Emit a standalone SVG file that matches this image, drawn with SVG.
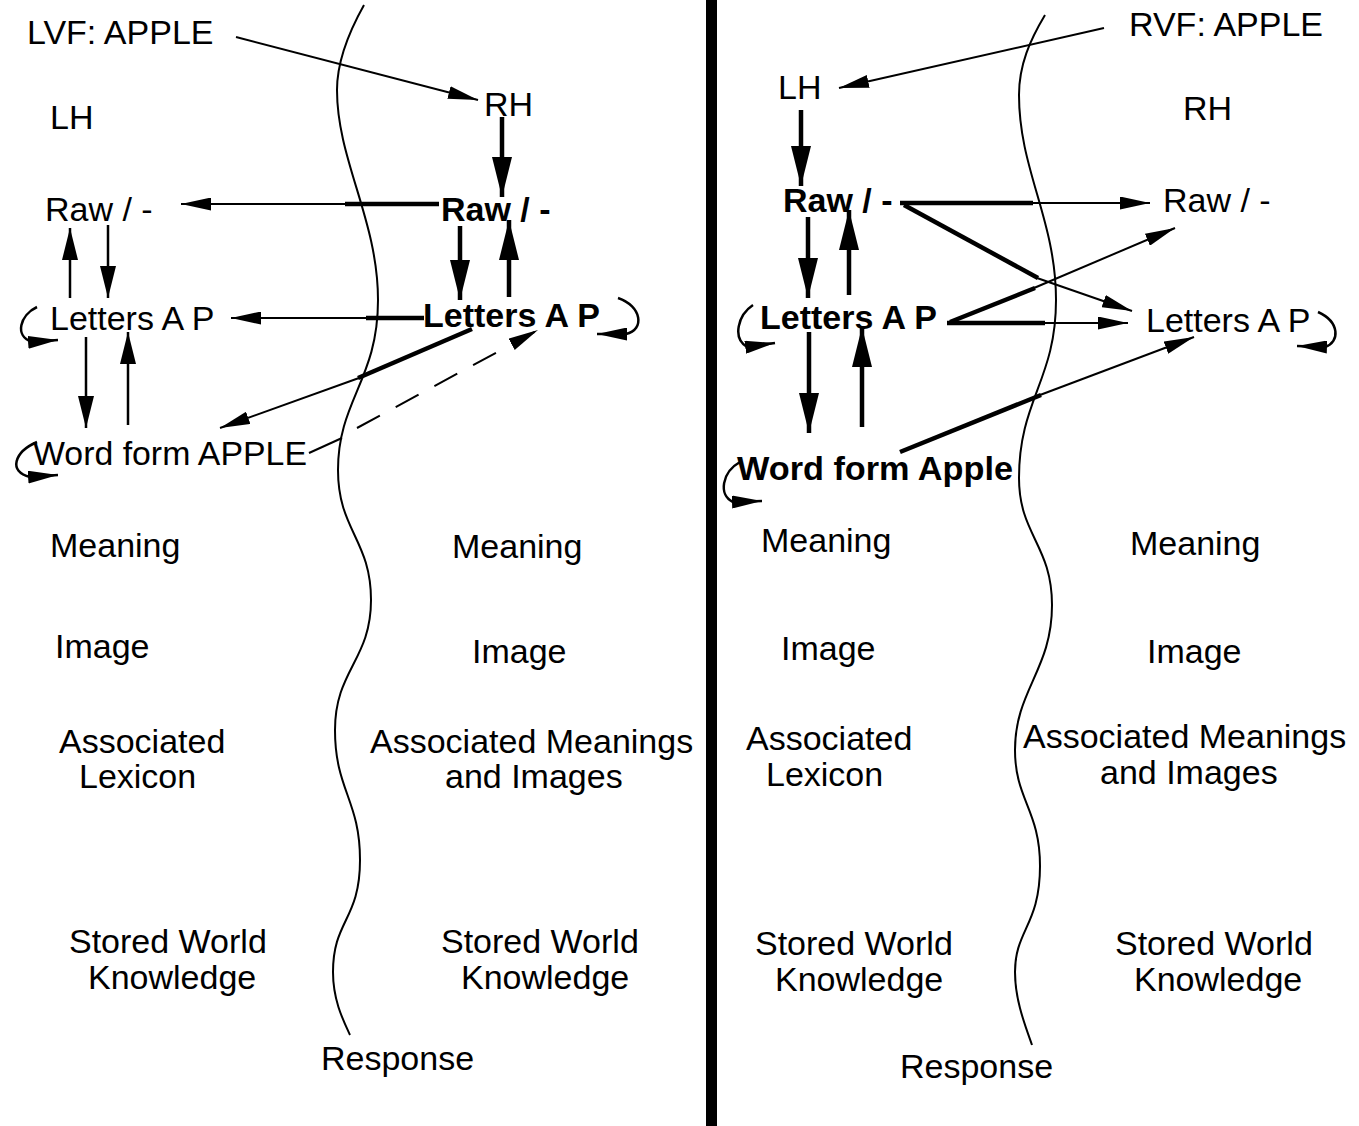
<svg xmlns="http://www.w3.org/2000/svg" width="1359" height="1126" viewBox="0 0 1359 1126">
<style>
.t{font-family:"Liberation Sans",Arial,Helvetica,sans-serif;font-size:34px;fill:#000}
.b{font-weight:bold}
.thin{stroke:#000;stroke-width:2;fill:none}
.med{stroke:#000;stroke-width:2.5;fill:none}
.thick{stroke:#000;stroke-width:4.5;fill:none}
.wave{stroke:#000;stroke-width:2;fill:none}
.dash{stroke:#000;stroke-width:2;fill:none;stroke-dasharray:26 18}
</style>
<defs>
<marker id="a" markerUnits="userSpaceOnUse" viewBox="0 0 30 13" markerWidth="30" markerHeight="13" refX="30" refY="6.5" orient="auto"><path d="M0,0 L30,6.5 L0,13 z" fill="#000"/></marker>
<marker id="m" markerUnits="userSpaceOnUse" viewBox="0 0 32 16" markerWidth="32" markerHeight="16" refX="32" refY="8" orient="auto"><path d="M0,0 L32,8 L0,16 z" fill="#000"/></marker>
<marker id="A" markerUnits="userSpaceOnUse" viewBox="0 0 40 20" markerWidth="40" markerHeight="20" refX="40" refY="10" orient="auto"><path d="M0,0 L40,10 L0,20 z" fill="#000"/></marker>
</defs>
<rect width="1359" height="1126" fill="#fff"/>

<!-- divider and midlines -->
<g id="divider"><rect x="706" y="0" width="11" height="1126" fill="#000"/></g>
<g id="midlines">
<path class="wave" d="M364,5 C350,30 337,60 337,90 C337,160 378,220 378,300 C378,380 338,400 338,470 C338,530 371,540 371,600 C371,660 335,670 335,730 C335,790 360,800 360,860 C360,920 333,920 333,972 C333,1000 343,1020 350,1035"/>
<path class="wave" d="M1045,15 C1030,40 1019,65 1019,95 C1019,170 1056,220 1056,300 C1056,380 1019,400 1019,478 C1019,535 1052,545 1052,605 C1052,670 1015,690 1015,750 C1015,800 1040,810 1040,866 C1040,925 1015,930 1015,972 C1015,1000 1025,1025 1032,1045"/>
</g>

<!-- Left panel nodes -->
<g id="L-lvf"><text class="t" x="27" y="44">LVF: APPLE</text></g>
<g id="L-lh"><text class="t" x="50" y="129">LH</text></g>
<g id="L-rh"><text class="t" x="484" y="116">RH</text></g>
<g id="L-raw-lh"><text class="t" x="45" y="221">Raw / -</text></g>
<g id="L-raw-rh"><text class="t b" x="441" y="221">Raw / -</text></g>
<g id="L-letters-lh"><text class="t" x="50" y="330">Letters A P</text></g>
<g id="L-letters-rh"><text class="t b" x="423" y="327">Letters A P</text></g>
<g id="L-word-lh"><text class="t" x="33" y="465" textLength="274" lengthAdjust="spacingAndGlyphs">Word form APPLE</text></g>
<g id="L-meaning-lh"><text class="t" x="50" y="557">Meaning</text></g>
<g id="L-meaning-rh"><text class="t" x="452" y="558">Meaning</text></g>
<g id="L-image-lh"><text class="t" x="55" y="658">Image</text></g>
<g id="L-image-rh"><text class="t" x="472" y="663">Image</text></g>
<g id="L-assoc-lh"><text class="t" x="59" y="753">Associated</text><text class="t" x="79" y="788">Lexicon</text></g>
<g id="L-assoc-rh"><text class="t" x="370" y="753">Associated Meanings</text><text class="t" x="445" y="788">and Images</text></g>
<g id="L-stored-lh"><text class="t" x="69" y="953">Stored World</text><text class="t" x="88" y="989">Knowledge</text></g>
<g id="L-stored-rh"><text class="t" x="441" y="953">Stored World</text><text class="t" x="461" y="989">Knowledge</text></g>
<g id="L-response"><text class="t" x="321" y="1070">Response</text></g>

<!-- Right panel nodes -->
<g id="R-rvf"><text class="t" x="1129" y="36">RVF: APPLE</text></g>
<g id="R-lh"><text class="t" x="778" y="99">LH</text></g>
<g id="R-rh"><text class="t" x="1183" y="120">RH</text></g>
<g id="R-raw-lh"><text class="t b" x="783" y="212">Raw / -</text></g>
<g id="R-raw-rh"><text class="t" x="1163" y="212">Raw / -</text></g>
<g id="R-letters-lh"><text class="t b" x="760" y="329">Letters A P</text></g>
<g id="R-letters-rh"><text class="t" x="1146" y="332">Letters A P</text></g>
<g id="R-word-lh"><text class="t b" x="737" y="480" textLength="276" lengthAdjust="spacingAndGlyphs">Word form Apple</text></g>
<g id="R-meaning-lh"><text class="t" x="761" y="552">Meaning</text></g>
<g id="R-meaning-rh"><text class="t" x="1130" y="555">Meaning</text></g>
<g id="R-image-lh"><text class="t" x="781" y="660">Image</text></g>
<g id="R-image-rh"><text class="t" x="1147" y="663">Image</text></g>
<g id="R-assoc-lh"><text class="t" x="746" y="750">Associated</text><text class="t" x="766" y="786">Lexicon</text></g>
<g id="R-assoc-rh"><text class="t" x="1023" y="748">Associated Meanings</text><text class="t" x="1100" y="784">and Images</text></g>
<g id="R-stored-lh"><text class="t" x="755" y="955">Stored World</text><text class="t" x="775" y="991">Knowledge</text></g>
<g id="R-stored-rh"><text class="t" x="1115" y="955">Stored World</text><text class="t" x="1134" y="991">Knowledge</text></g>
<g id="R-response"><text class="t" x="900" y="1078">Response</text></g>

<!-- Connectors -->
<g id="connectors">
<!-- left panel -->
<line class="thin" x1="236" y1="37" x2="478" y2="100" marker-end="url(#a)"/>
<line class="thick" x1="502" y1="117" x2="502" y2="197" marker-end="url(#A)"/>
<line class="thick" x1="439" y1="204" x2="345" y2="204"/>
<line class="thin" x1="346" y1="204" x2="181" y2="204" marker-end="url(#a)"/>
<line class="med" x1="70" y1="298" x2="70" y2="228" marker-end="url(#m)"/>
<line class="med" x1="108" y1="225" x2="108" y2="298" marker-end="url(#m)"/>
<line class="thick" x1="460" y1="226" x2="460" y2="300" marker-end="url(#A)"/>
<line class="thick" x1="509" y1="297" x2="509" y2="220" marker-end="url(#A)"/>
<line class="thick" x1="424" y1="318" x2="366" y2="318"/>
<line class="thin" x1="367" y1="318" x2="231" y2="318" marker-end="url(#a)"/>
<line class="med" x1="86" y1="337" x2="86" y2="428" marker-end="url(#m)"/>
<line class="med" x1="128" y1="425" x2="128" y2="332" marker-end="url(#m)"/>
<line class="thick" x1="472" y1="329" x2="358" y2="378"/>
<line class="thin" x1="359" y1="378" x2="220" y2="428" marker-end="url(#a)"/>
<line class="thin" x1="309" y1="453" x2="342" y2="438"/>
<line class="dash" x1="357" y1="428" x2="538" y2="330" marker-end="url(#a)"/>
<path class="med" d="M37,307 C20,315 14,336 32,342 L58,340" marker-end="url(#a)"/>
<path class="med" d="M37,442 C14,452 8,472 30,477 L58,475" marker-end="url(#a)"/>
<path class="med" d="M618,298 C642,306 645,330 626,334 L597,334" marker-end="url(#a)"/>
<!-- right panel -->
<line class="thin" x1="1104" y1="28" x2="839" y2="88" marker-end="url(#a)"/>
<line class="thick" x1="801" y1="110" x2="801" y2="186" marker-end="url(#A)"/>
<line class="thick" x1="900" y1="203" x2="1033" y2="203"/>
<line class="thin" x1="1032" y1="203" x2="1150" y2="203" marker-end="url(#a)"/>
<line class="thick" x1="904" y1="205" x2="1038" y2="278"/>
<line class="thin" x1="1037" y1="278" x2="1132" y2="311" marker-end="url(#a)"/>
<line class="thick" x1="950" y1="322" x2="1035" y2="288"/>
<line class="thin" x1="1034" y1="288" x2="1175" y2="228" marker-end="url(#a)"/>
<line class="thick" x1="947" y1="323" x2="1045" y2="323"/>
<line class="thin" x1="1044" y1="323" x2="1128" y2="323" marker-end="url(#a)"/>
<line class="thick" x1="900" y1="452" x2="1041" y2="395"/>
<line class="thin" x1="1040" y1="395" x2="1194" y2="337" marker-end="url(#a)"/>
<line class="thick" x1="808" y1="217" x2="808" y2="298" marker-end="url(#A)"/>
<line class="thick" x1="849" y1="295" x2="849" y2="210" marker-end="url(#A)"/>
<line class="thick" x1="809" y1="332" x2="809" y2="433" marker-end="url(#A)"/>
<line class="thick" x1="862" y1="427" x2="862" y2="327" marker-end="url(#A)"/>
<path class="med" d="M753,305 C738,315 732,338 747,347 L775,343" marker-end="url(#a)"/>
<path class="med" d="M740,462 C722,472 718,495 733,502 L762,501" marker-end="url(#a)"/>
<path class="med" d="M1318,312 C1340,322 1340,342 1325,347 L1297,346" marker-end="url(#a)"/>
</g>
</svg>
